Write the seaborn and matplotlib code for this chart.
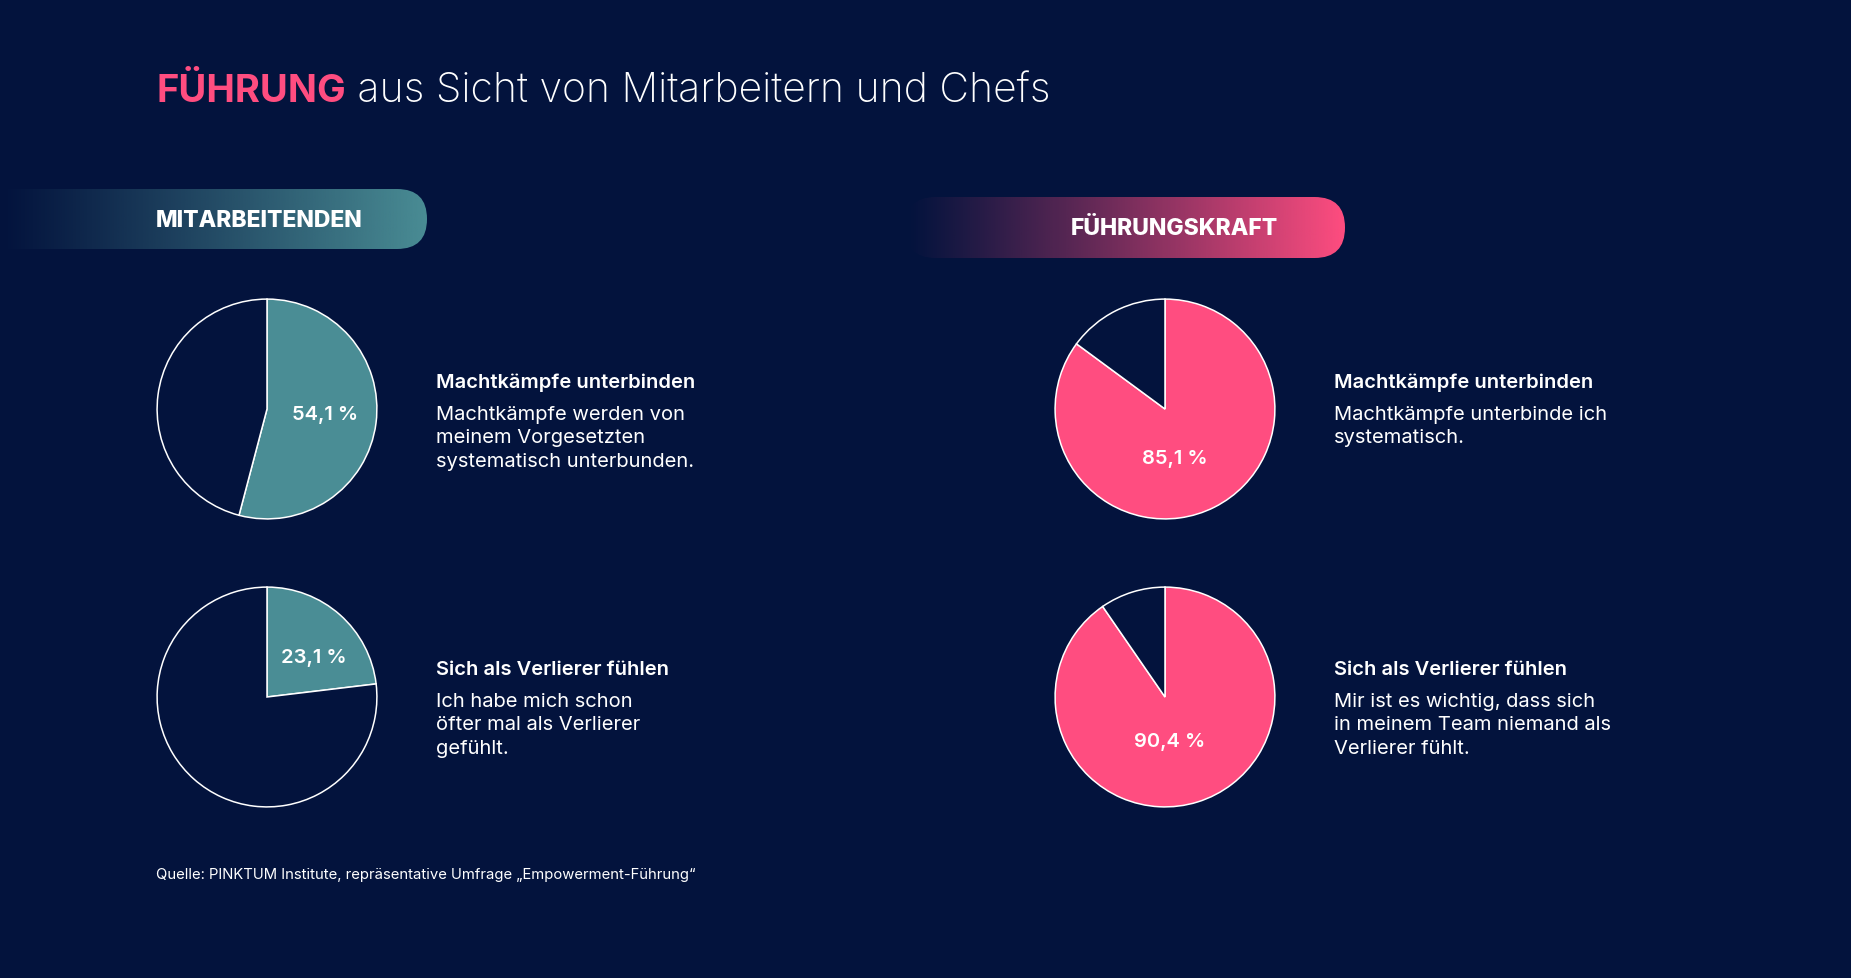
import numpy as np
import matplotlib
matplotlib.use("Agg")
import matplotlib.pyplot as plt
import matplotlib.patches as mpatches
from matplotlib.colors import to_rgb
import seaborn as sns

# data
groups = ["MITARBEITENDEN", "FÜHRUNGSKRAFT"]
topics = ["Machtkämpfe unterbinden", "Sich als Verlierer fühlen"]
values = {
    "MITARBEITENDEN": [54.1, 23.1],
    "FÜHRUNGSKRAFT": [85.1, 90.4],
}
statements = {
    "MITARBEITENDEN": [
        "Machtkämpfe werden von\nmeinem Vorgesetzten\nsystematisch unterbunden.",
        "Ich habe mich schon\nöfter mal als Verlierer\ngefühlt.",
    ],
    "FÜHRUNGSKRAFT": [
        "Machtkämpfe unterbinde ich\nsystematisch.",
        "Mir ist es wichtig, dass sich\nin meinem Team niemand als\nVerlierer fühlt.",
    ],
}
source = "Quelle: PINKTUM Institute, repräsentative Umfrage „Empowerment-Führung“"

BG = "#03133d"
TEAL = "#4a8d95"
PINK = "#ff4d80"
group_colors = {"MITARBEITENDEN": TEAL, "FÜHRUNGSKRAFT": PINK}

sns.set_theme(style="white")
plt.rcParams["font.family"] = ["Inter", "DejaVu Sans"]

W, H = 1851, 979
fig = plt.figure(figsize=(W / 100, H / 100), dpi=100, facecolor=BG)

# full-figure axes in pixel coordinates for text and banners
bg = fig.add_axes([0, 0, 1, 1])
bg.set_xlim(0, W)
bg.set_ylim(H, 0)
bg.axis("off")
bg.set_facecolor(BG)

# title
t1 = bg.text(156, 92, "FÜHRUNG", color=PINK, fontsize=27.5, fontweight="bold",
             va="center", ha="left")
bg.annotate(" aus Sicht von Mitarbeitern und Chefs", xy=(1, 0.5), xycoords=t1,
            va="center", ha="left", color="white", fontsize=29.5, fontweight="light")

# banners with gradient
banners = {
    "MITARBEITENDEN": (-60, 427, 190, 250),
    "FÜHRUNGSKRAFT": (905, 1345, 198, 259),
}
for g, (x0, x1, y0, y1) in banners.items():
    h = y1 - y0
    rgb = np.array(to_rgb(group_colors[g]))
    ramp = np.linspace(0, 1, 256) ** 1.1
    img = np.zeros((1, 256, 4))
    img[0, :, :3] = rgb
    img[0, :, 3] = ramp
    patch = mpatches.FancyBboxPatch((x0, y0), x1 - x0, h,
                                    boxstyle=f"round,pad=0,rounding_size={h / 2}",
                                    facecolor="none", edgecolor="none")
    bg.add_patch(patch)
    im = bg.imshow(img, extent=(max(x0, 0), x1, y1, y0), aspect="auto",
                   interpolation="bilinear", zorder=1)
    im.set_clip_path(patch)
bg.set_xlim(0, W)
bg.set_ylim(H, 0)

bg.text(156, 221, "MITARBEITENDEN", color="white", fontsize=16.5, fontweight="heavy",
        va="center", ha="left", zorder=3)
bg.text(1174, 229, "FÜHRUNGSKRAFT", color="white", fontsize=16.5, fontweight="heavy",
        va="center", ha="center", zorder=3)

# pies
pie_cx = {"MITARBEITENDEN": 267, "FÜHRUNGSKRAFT": 1165}
pie_cy = [410, 698]
r = 111
text_x = {"MITARBEITENDEN": 436, "FÜHRUNGSKRAFT": 1334}
head_y = [383, 670]
label_pos = {
    "MITARBEITENDEN": [(0.53, -0.05), (0.43, 0.36)],
    "FÜHRUNGSKRAFT": [(0.09, -0.45), (0.04, -0.40)],
}

for g in groups:
    for i, v in enumerate(values[g]):
        cx, cy = pie_cx[g], pie_cy[i]
        ax = fig.add_axes([(cx - r) / W, 1 - (cy + r) / H, 2 * r / W, 2 * r / H])
        ax.pie([v, 100 - v], startangle=90, counterclock=False,
               colors=[group_colors[g], BG],
               wedgeprops=dict(edgecolor="white", linewidth=1.1))
        ax.set_xlim(-1.01, 1.01)
        ax.set_ylim(-1.01, 1.01)
        ax.set_aspect("auto")
        ax.axis("off")
        lx, ly = label_pos[g][i]
        ax.text(lx, ly, f"{v:.1f} %".replace(".", ","), color="white",
                fontsize=14.5, fontweight="semibold", ha="center", va="center")

        # text block
        bg.text(text_x[g], head_y[i], topics[i], color="white", fontsize=14.5,
                fontweight="semibold", va="center", ha="left")
        bg.text(text_x[g], head_y[i] + 23, statements[g][i], color="white",
                fontsize=14.5, va="top", ha="left", linespacing=1.39)

bg.text(156, 875, source, color="white", fontsize=10.7, va="center", ha="left")

fig.savefig("out.png", dpi=100, facecolor=BG)
